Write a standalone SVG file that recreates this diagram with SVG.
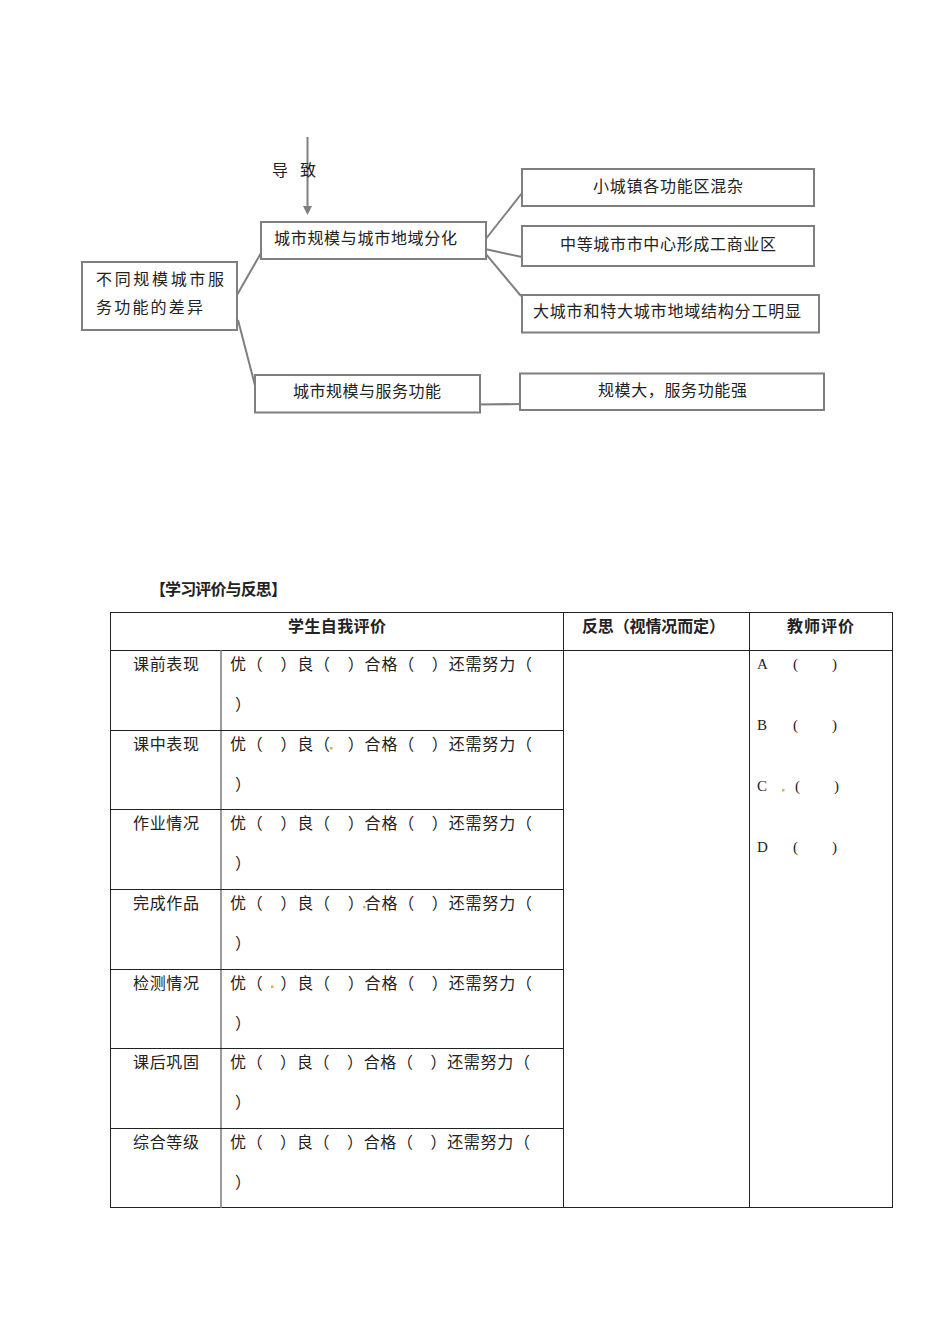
<svg xmlns="http://www.w3.org/2000/svg" width="950" height="1344" viewBox="0 0 950 1344">
<style>
.box{fill:#fff;stroke:#7f7f7f;stroke-width:2}
.con{stroke:#7f7f7f;stroke-width:2;fill:none}
.t{font-family:"Noto Sans CJK SC","Noto Sans CJK JP",sans-serif;font-size:16px;fill:#222}
.b{font-weight:bold}
.lat{font-family:"Liberation Serif","Noto Sans CJK SC",serif;font-size:15px;fill:#222}
.tl{stroke:#222;stroke-width:1;fill:none}
.tg{stroke:#7a7a7a;stroke-width:1.5;fill:none}
.dot{fill:#d9b04a}
</style>
<rect width="950" height="1344" fill="#fff"/>
<g id="connectors">
<line class="con" x1="307.5" y1="137" x2="307.5" y2="207"/>
<polygon points="303,206 312,206 307.5,215" fill="#7f7f7f"/>
<line class="con" x1="237" y1="295" x2="261" y2="253"/>
<line class="con" x1="238" y1="320" x2="257" y2="393"/>
<line class="con" x1="485" y1="240" x2="522" y2="193"/>
<line class="con" x1="485" y1="249" x2="522" y2="257"/>
<line class="con" x1="485" y1="253" x2="521" y2="296"/>
<line class="con" x1="477" y1="404.5" x2="521" y2="404"/>
</g>
<text class="t" x="272" y="176" textLength="44">导　致</text>
<g id="node-root">
<rect class="box" x="82" y="262" width="155" height="68"/>
<text class="t" x="96" y="285" textLength="128">不同规模城市服</text>
<text class="t" x="96" y="313" textLength="107">务功能的差异</text>
</g>
<g id="node-division">
<rect class="box" x="261" y="222" width="225" height="37"/>
<text class="t" x="274" y="244" textLength="183">城市规模与城市地域分化</text>
</g>
<g id="node-service">
<rect class="box" x="255" y="375" width="225" height="37.5"/>
<text class="t" x="293" y="397" textLength="148">城市规模与服务功能</text>
</g>
<g id="node-small">
<rect class="box" x="522" y="169" width="292" height="37"/>
<text class="t" x="593" y="192" textLength="150">小城镇各功能区混杂</text>
</g>
<g id="node-medium">
<rect class="box" x="522" y="226" width="292" height="40"/>
<text class="t" x="560" y="250" textLength="216">中等城市市中心形成工商业区</text>
</g>
<g id="node-large">
<rect class="box" x="522" y="295" width="297" height="37.5"/>
<text class="t" x="533" y="317" textLength="268">大城市和特大城市地域结构分工明显</text>
</g>
<g id="node-strong">
<rect class="box" x="520" y="373.5" width="304" height="36.5"/>
<text class="t" x="598" y="396" textLength="149">规模大，服务功能强</text>
</g>
<g id="table">
<text class="t b" x="150" y="595" textLength="137" font-size="15">【学习评价与反思】</text>
<rect class="tl" x="110.5" y="612.5" width="782" height="595"/>
<line class="tl" x1="110" y1="650.5" x2="892" y2="650.5"/>
<line class="tl" x1="563.5" y1="612" x2="563.5" y2="1208"/>
<line class="tl" x1="749.5" y1="612" x2="749.5" y2="1208"/>
<line class="tg" x1="221" y1="650" x2="221" y2="1208"/>
<line class="tl" x1="110" y1="730.5" x2="564" y2="730.5"/>
<line class="tl" x1="110" y1="809.5" x2="564" y2="809.5"/>
<line class="tl" x1="110" y1="889.5" x2="564" y2="889.5"/>
<line class="tl" x1="110" y1="969.5" x2="564" y2="969.5"/>
<line class="tl" x1="110" y1="1048.5" x2="564" y2="1048.5"/>
<line class="tl" x1="110" y1="1128.5" x2="564" y2="1128.5"/>
<text class="t b" x="288" y="632" textLength="98">学生自我评价</text>
<text class="t b" x="582" y="632" textLength="143">反思（视情况而定）</text>
<text class="t b" x="787" y="632" textLength="67">教师评价</text>
<text class="t" x="133" y="670" textLength="66">课前表现</text>
<text class="t" x="230" y="670" textLength="302">优（　）良（　）合格（　）还需努力（</text>
<text class="t" x="235" y="710">）</text>
<text class="t" x="133" y="750" textLength="66">课中表现</text>
<text class="t" x="230" y="750" textLength="302">优（　）良（　）合格（　）还需努力（</text>
<text class="t" x="235" y="790">）</text>
<text class="t" x="133" y="829" textLength="66">作业情况</text>
<text class="t" x="230" y="829" textLength="302">优（　）良（　）合格（　）还需努力（</text>
<text class="t" x="235" y="869">）</text>
<text class="t" x="133" y="909" textLength="66">完成作品</text>
<text class="t" x="230" y="909" textLength="302">优（　）良（　）合格（　）还需努力（</text>
<text class="t" x="235" y="949">）</text>
<text class="t" x="133" y="989" textLength="66">检测情况</text>
<text class="t" x="230" y="989" textLength="302">优（　）良（　）合格（　）还需努力（</text>
<text class="t" x="235" y="1029">）</text>
<text class="t" x="133" y="1068" textLength="66">课后巩固</text>
<text class="t" x="230" y="1068" textLength="300">优（　）良（　）合格（　）还需努力（</text>
<text class="t" x="235" y="1108">）</text>
<text class="t" x="133" y="1148" textLength="66">综合等级</text>
<text class="t" x="230" y="1148" textLength="300">优（　）良（　）合格（　）还需努力（</text>
<text class="t" x="235" y="1188">）</text>
<rect class="dot" x="330" y="747" width="2.5" height="2.5"/>
<rect class="dot" x="363" y="906" width="2.5" height="2.5"/>
<rect class="dot" x="271" y="985.5" width="2.5" height="2.5"/>
<rect class="dot" x="782" y="789" width="2.5" height="2.5"/>
<text class="lat" x="757" y="669">A</text><text class="lat" x="793" y="669">(</text><text class="lat" x="832" y="669">)</text>
<text class="lat" x="757" y="730">B</text><text class="lat" x="793" y="730">(</text><text class="lat" x="832" y="730">)</text>
<text class="lat" x="757" y="791">C</text><text class="lat" x="795" y="791">(</text><text class="lat" x="834" y="791">)</text>
<text class="lat" x="757" y="852">D</text><text class="lat" x="793" y="852">(</text><text class="lat" x="832" y="852">)</text>
</g>
</svg>
